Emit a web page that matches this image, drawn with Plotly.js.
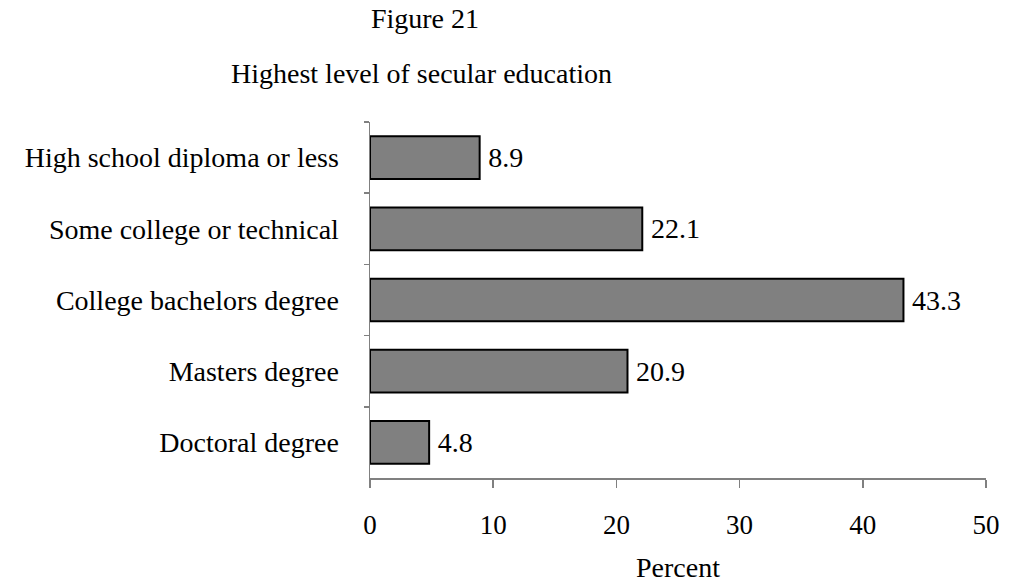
<!DOCTYPE html>
<html>
<head>
<meta charset="utf-8">
<script src="https://cdn.plot.ly/plotly-3.0.1.min.js"></script>
<style>html,body{margin:0;padding:0;background:#fff;}#chart{width:1010px;height:583px;}</style>
</head>
<body>
<div id="chart"></div>
<script>
var categories = ["High school diploma or less", "Some college or technical", "College bachelors degree", "Masters degree", "Doctoral degree"];
var values = [8.9, 22.1, 43.3, 20.9, 4.8];
var valueLabels = ["8.9", "22.1", "43.3", "20.9", "4.8"];
var xTicks = [0, 10, 20, 30, 40, 50];

var font = "Liberation Serif, Times New Roman, serif";

var trace = {
  type: "bar",
  orientation: "h",
  y: categories,
  x: values,
  text: valueLabels.map(function (s) { return "\u2009" + s; }),
  textposition: "outside",
  cliponaxis: false,
  textfont: {family: font, size: 28, color: "#000"},
  marker: {color: "#808080", line: {color: "#000", width: 2}},
  hoverinfo: "none"
};

var layout = {
  width: 1010, height: 583,
  margin: {l: 370, r: 24, t: 122, b: 105},
  paper_bgcolor: "#fff", plot_bgcolor: "#fff",
  showlegend: false,
  bargap: 0.4,
  font: {family: font, color: "#000"},
  title: {text: "Figure 21", font: {family: font, size: 28, color: "#000"}, x: 425/1010, xanchor: "center", xref: "container", y: 1 - 18/583, yanchor: "middle", yref: "container"},
  annotations: [{
    text: "Highest level of secular education", xref: "paper", yref: "paper",
    x: (421 - 370) / 616, y: (478 - 73) / 356, xanchor: "center", yanchor: "middle",
    showarrow: false, font: {family: font, size: 28, color: "#000"}
  }],
  xaxis: {
    range: [0, 50], tickvals: xTicks, ticktext: xTicks.map(String),
    showgrid: false, zeroline: false,
    showline: true, linecolor: "#808080", linewidth: 1.5,
    ticks: "outside", ticklen: 8, tickcolor: "#808080", tickwidth: 1.5,
    tickfont: {family: font, size: 27, color: "#000"},
    ticklabelstandoff: 14,
    title: {text: "Percent", font: {family: font, size: 28, color: "#000"}, standoff: 18},
    fixedrange: true
  },
  yaxis: {
    type: "category", autorange: "reversed",
    showgrid: false, zeroline: false,
    showline: true, linecolor: "#808080", linewidth: 1.5,
    ticks: "outside", ticklen: 5, tickcolor: "#808080", tickwidth: 1.5,
    tickson: "boundaries",
    tickfont: {family: font, size: 28, color: "#000"},
    ticklabelstandoff: 24,
    fixedrange: true
  }
};

Plotly.newPlot("chart", [trace], layout, {displayModeBar: false, staticPlot: true});
</script>
</body>
</html>
